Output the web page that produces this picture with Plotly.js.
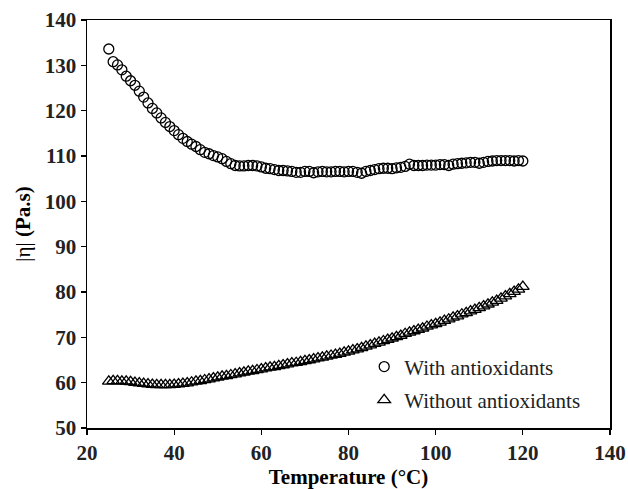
<!DOCTYPE html>
<html>
<head>
<meta charset="utf-8">
<script src="https://cdn.plot.ly/plotly-3.0.1.min.js"></script>
<style>html,body{margin:0;padding:0;background:#fff;}#chart{width:628px;height:489px;}</style>
</head>
<body>
<div id="chart"></div>
<script>
var temperature = [25,26,27,28,29,30,31,32,33,34,35,36,37,38,39,40,41,42,43,44,45,46,47,48,49,50,
  51,52,53,54,55,56,57,58,59,60,61,62,63,64,65,66,67,68,69,70,71,72,73,74,75,76,77,78,79,80,
  81,82,83,84,85,86,87,88,89,90,91,92,93,94,95,96,97,98,99,100,101,102,103,104,105,106,107,108,109,110,
  111,112,113,114,115,116,117,118,119,120];

var withAntioxidants = [133.6,130.8,130.1,129.0,127.6,126.6,125.6,124.3,123.0,121.7,120.5,119.5,118.4,117.4,116.5,115.6,114.7,113.9,113.2,112.6,112.1,111.4,110.8,110.5,110.1,109.8,
  109.4,108.8,108.3,107.9,107.8,107.8,107.9,107.9,107.8,107.6,107.3,107.2,107.0,106.8,106.8,106.7,106.6,106.4,106.4,106.6,106.6,106.3,106.5,106.6,106.5,106.5,106.6,106.6,106.5,106.6,
  106.6,106.4,106.2,106.6,106.8,107.0,107.2,107.3,107.3,107.2,107.4,107.5,107.7,108.2,107.9,107.9,107.9,108.0,108.0,108.0,108.1,108.1,107.9,108.2,108.3,108.4,108.5,108.6,108.6,108.4,
  108.6,108.8,108.9,109.0,109.0,109.0,109.0,108.9,109.0,108.9];

var withoutAntioxidants = [60.3,60.4,60.4,60.3,60.3,60.2,60.0,59.9,59.8,59.7,59.6,59.5,59.5,59.5,59.5,59.6,59.7,59.8,59.9,60.1,60.3,60.4,60.6,60.8,61.0,61.2,
  61.4,61.5,61.7,61.9,62.1,62.3,62.5,62.6,62.8,63.0,63.2,63.4,63.5,63.7,63.9,64.1,64.3,64.4,64.6,64.8,65.0,65.2,65.4,65.6,65.8,66.0,66.2,66.4,66.7,66.9,
  67.2,67.4,67.7,68.0,68.3,68.6,68.9,69.2,69.5,69.8,70.1,70.4,70.8,71.1,71.4,71.7,72.0,72.4,72.7,73.0,73.3,73.7,74.0,74.4,74.7,75.1,75.4,75.8,76.1,76.5,
  76.9,77.3,77.7,78.1,78.6,79.1,79.6,80.1,80.6,81.2];

var seriesNames = ["With antioxidants", "Without antioxidants"];
var xTicks = [20,40,60,80,100,120,140];
var yTicks = [50,60,70,80,90,100,110,120,130,140];

var serif = "'Liberation Serif', 'Times New Roman', serif";

var traces = [
  {x: temperature, y: withAntioxidants, name: seriesNames[0], mode: 'markers', type: 'scatter',
   legendgroup: 'a',
   marker: {symbol: 'circle-open', size: 10, color: '#000', line: {width: 1.3, color: '#000'}}},
  {x: temperature, y: withoutAntioxidants, name: seriesNames[1], mode: 'markers', type: 'scatter',
   legendgroup: 'b',
   marker: {symbol: 'triangle-up-open', size: 11, color: '#000', line: {width: 1.3, color: '#000'}}}
];

var layout = {
  width: 628, height: 489,
  margin: {l: 87, r: 18, t: 20, b: 61, pad: 0},
  paper_bgcolor: '#fff', plot_bgcolor: '#fff',
  font: {family: serif, color: '#000'},
  showlegend: true,
  legend: {x: 0.53, y: 0.2, xanchor: 'left', yanchor: 'top', bgcolor: 'rgba(0,0,0,0)',
           font: {family: serif, size: 21, color: '#222'}, traceorder: 'grouped', tracegroupgap: 3,
           itemwidth: 30},
  xaxis: {
    range: [20, 140], tickvals: xTicks, ticktext: xTicks.map(String),
    showline: true, linecolor: '#000', linewidth: 1.5, mirror: true,
    ticks: 'outside', ticklen: 5, tickwidth: 1.2, tickcolor: '#000',
    showgrid: false, zeroline: false,
    tickfont: {family: serif, size: 21, weight: 'bold', color: '#222'},
    title: {text: 'Temperature (°C)', font: {family: serif, size: 21, weight: 'bold', color: '#000'}, standoff: 4}
  },
  yaxis: {
    range: [50, 140], tickvals: yTicks, ticktext: yTicks.map(String),
    showline: true, linecolor: '#000', linewidth: 1.5, mirror: true,
    ticks: 'outside', ticklen: 5, tickwidth: 1.2, tickcolor: '#000',
    showgrid: false, zeroline: false,
    tickfont: {family: serif, size: 21, weight: 'bold', color: '#222'},
    title: {text: '|η| <b>(Pa.s)</b>', font: {family: serif, size: 21, color: '#000'}, standoff: 8}
  }
};

Plotly.newPlot('chart', traces, layout, {displayModeBar: false, staticPlot: true});
</script>
</body>
</html>
